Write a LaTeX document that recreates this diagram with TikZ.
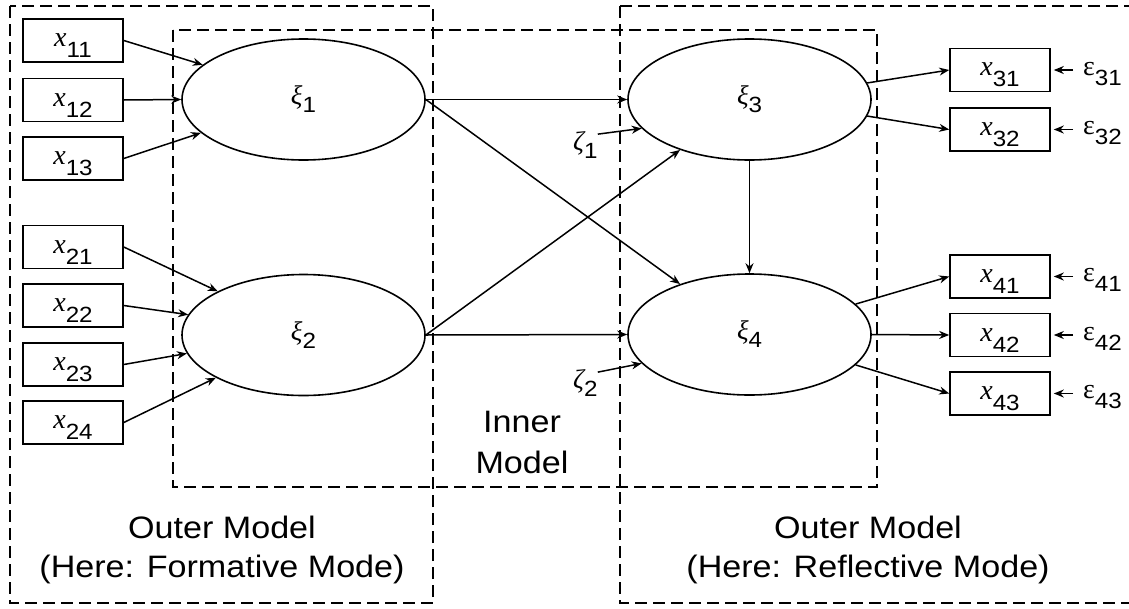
\documentclass[tikz,border=0pt]{standalone}
\usepackage{fontspec}
\setmainfont{Liberation Sans}
\newfontfamily\srf{Liberation Serif}
\newfontfamily\snf[FakeStretch=1.1]{Liberation Sans}
\usetikzlibrary{shapes.geometric,arrows.meta}
\newcommand\varlab[2]{\rule{0pt}{23pt}{\srf\fontsize{28}{30}\selectfont\itshape #1}\raisebox{-11pt}{\snf\fontsize{22}{24}\selectfont #2}}
\newcommand\latlab[2]{{\srf\fontsize{27}{30}\selectfont\itshape #1}\raisebox{-8pt}{\snf\fontsize{22}{24}\selectfont #2}}
\newcommand\errlab[2]{{\srf\fontsize{28}{30}\selectfont #1}\raisebox{-10pt}{\snf\fontsize{22}{24}\selectfont #2}}
\tikzset{
  mbox/.style={draw, rectangle, minimum width=100pt, minimum height=43pt, inner sep=0pt, line width=1.6pt},
  lat/.style={draw, ellipse, minimum width=243pt, minimum height=121pt, inner sep=0pt, line width=1.6pt},
  arr/.style={-{Stealth[length=10pt,width=8pt]}, line width=1.5pt},
  region/.style={draw, dash pattern=on 12pt off 6pt, line width=1.4pt},
  txt/.style={font=\snf\fontsize{31}{39}\selectfont, anchor=base, inner sep=0pt},
  plain/.style={inner sep=0pt}
}
\begin{document}
\begin{tikzpicture}[x=1pt,y=-1pt]
\useasboundingbox (0,0) rectangle (1129,608);
\clip (0,0) rectangle (1129,608);
\fill[white] (0,0) rectangle (1129,608);
% regions
\draw[region] (10,6) rectangle (433,603);
\draw[region] (173,30) rectangle (877,487);
\draw[region] (620,6) rectangle (1145,603);
% latent variables
\node[lat] (xi1) at (303.5,99.5) {\latlab{ξ}{1}};
\node[lat] (xi2) at (303.5,335) {\latlab{ξ}{2}};
\node[lat] (xi3) at (749.5,99.5) {\latlab{ξ}{3}};
\node[lat] (xi4) at (749.5,334.5) {\latlab{ξ}{4}};
% formative indicators
\node[mbox] (x11) at (73,40.5) {\varlab{x}{11}};
\node[mbox] (x12) at (73,100) {\varlab{x}{12}};
\node[mbox] (x13) at (73,158.5) {\varlab{x}{13}};
\node[mbox] (x21) at (73,247) {\varlab{x}{21}};
\node[mbox] (x22) at (73,305.5) {\varlab{x}{22}};
\node[mbox] (x23) at (73,364.5) {\varlab{x}{23}};
\node[mbox] (x24) at (73,422.5) {\varlab{x}{24}};
% reflective indicators
\node[mbox] (x31) at (1000,70) {\varlab{x}{31}};
\node[mbox] (x32) at (1000,129.5) {\varlab{x}{32}};
\node[mbox] (x41) at (1000,276.5) {\varlab{x}{41}};
\node[mbox] (x42) at (1000,335) {\varlab{x}{42}};
\node[mbox] (x43) at (1000,393.5) {\varlab{x}{43}};
% errors
\node[plain, anchor=base west] (e31) at (1083,75) {\errlab{ε}{31}};
\node[plain, anchor=base west] (e32) at (1083,134.5) {\errlab{ε}{32}};
\node[plain, anchor=base west] (e41) at (1083,281.5) {\errlab{ε}{41}};
\node[plain, anchor=base west] (e42) at (1083,340) {\errlab{ε}{42}};
\node[plain, anchor=base west] (e43) at (1083,398.5) {\errlab{ε}{43}};
% disturbances
\node[plain, anchor=base west] (z1) at (573,150) {\latlab{ζ}{1}};
\node[plain, anchor=base west] (z2) at (573,388) {\latlab{ζ}{2}};
% texts
\node[txt] (in1) at (522,432) {Inner};
\node[txt] (in2) at (522,473) {Model};
\node[txt] (ol1) at (222,538) {Outer Model};
\node[txt] (ol2) at (222,577) {(Here: Formative Mode)};
\node[txt] (or1) at (868,538) {Outer Model};
\node[txt] (or2) at (868,577) {(Here: Reflective Mode)};
% formative arrows
\draw[arr] (x11.east) -- (xi1.161.7);
\draw[arr] (x12.east) -- (xi1.west);
\draw[arr] (x13.east) -- (xi1.198.3);
\draw[arr] (x21.east) -- (xi2.153.6);
\draw[arr] (x22.east) -- (xi2.170.9);
\draw[arr] (x23.east) -- (xi2.189.1);
\draw[arr] (x24.east) -- (xi2.206.4);
% inner model
\draw[arr] (xi1.east) -- (xi3.west);
\draw[arr] (xi1.east) -- (xi4.144);
\draw[arr] (xi2.east) -- (xi3.216);
\draw[arr] (xi2.east) -- (xi4.west);
\draw[arr] (xi3.south) -- (xi4.north);
\draw[arr] (z1.40) -- (xi3.195);
\draw[arr] (z2.40) -- (xi4.195);
% reflective arrows
\draw[arr] (xi3.8.6) -- (x31.west);
\draw[arr] (xi3.-8.6) -- (x32.west);
\draw[arr] (xi4.16.6) -- (x41.west);
\draw[arr] (xi4.east) -- (x42.west);
\draw[arr] (xi4.-16.6) -- (x43.west);
% error arrows
\foreach \n in {31,32,41,42,43}{
  \draw[arr, shorten <=10pt, shorten >=3pt] (e\n.west |- x\n.east) -- (x\n.east);
}
\end{tikzpicture}
\end{document}
